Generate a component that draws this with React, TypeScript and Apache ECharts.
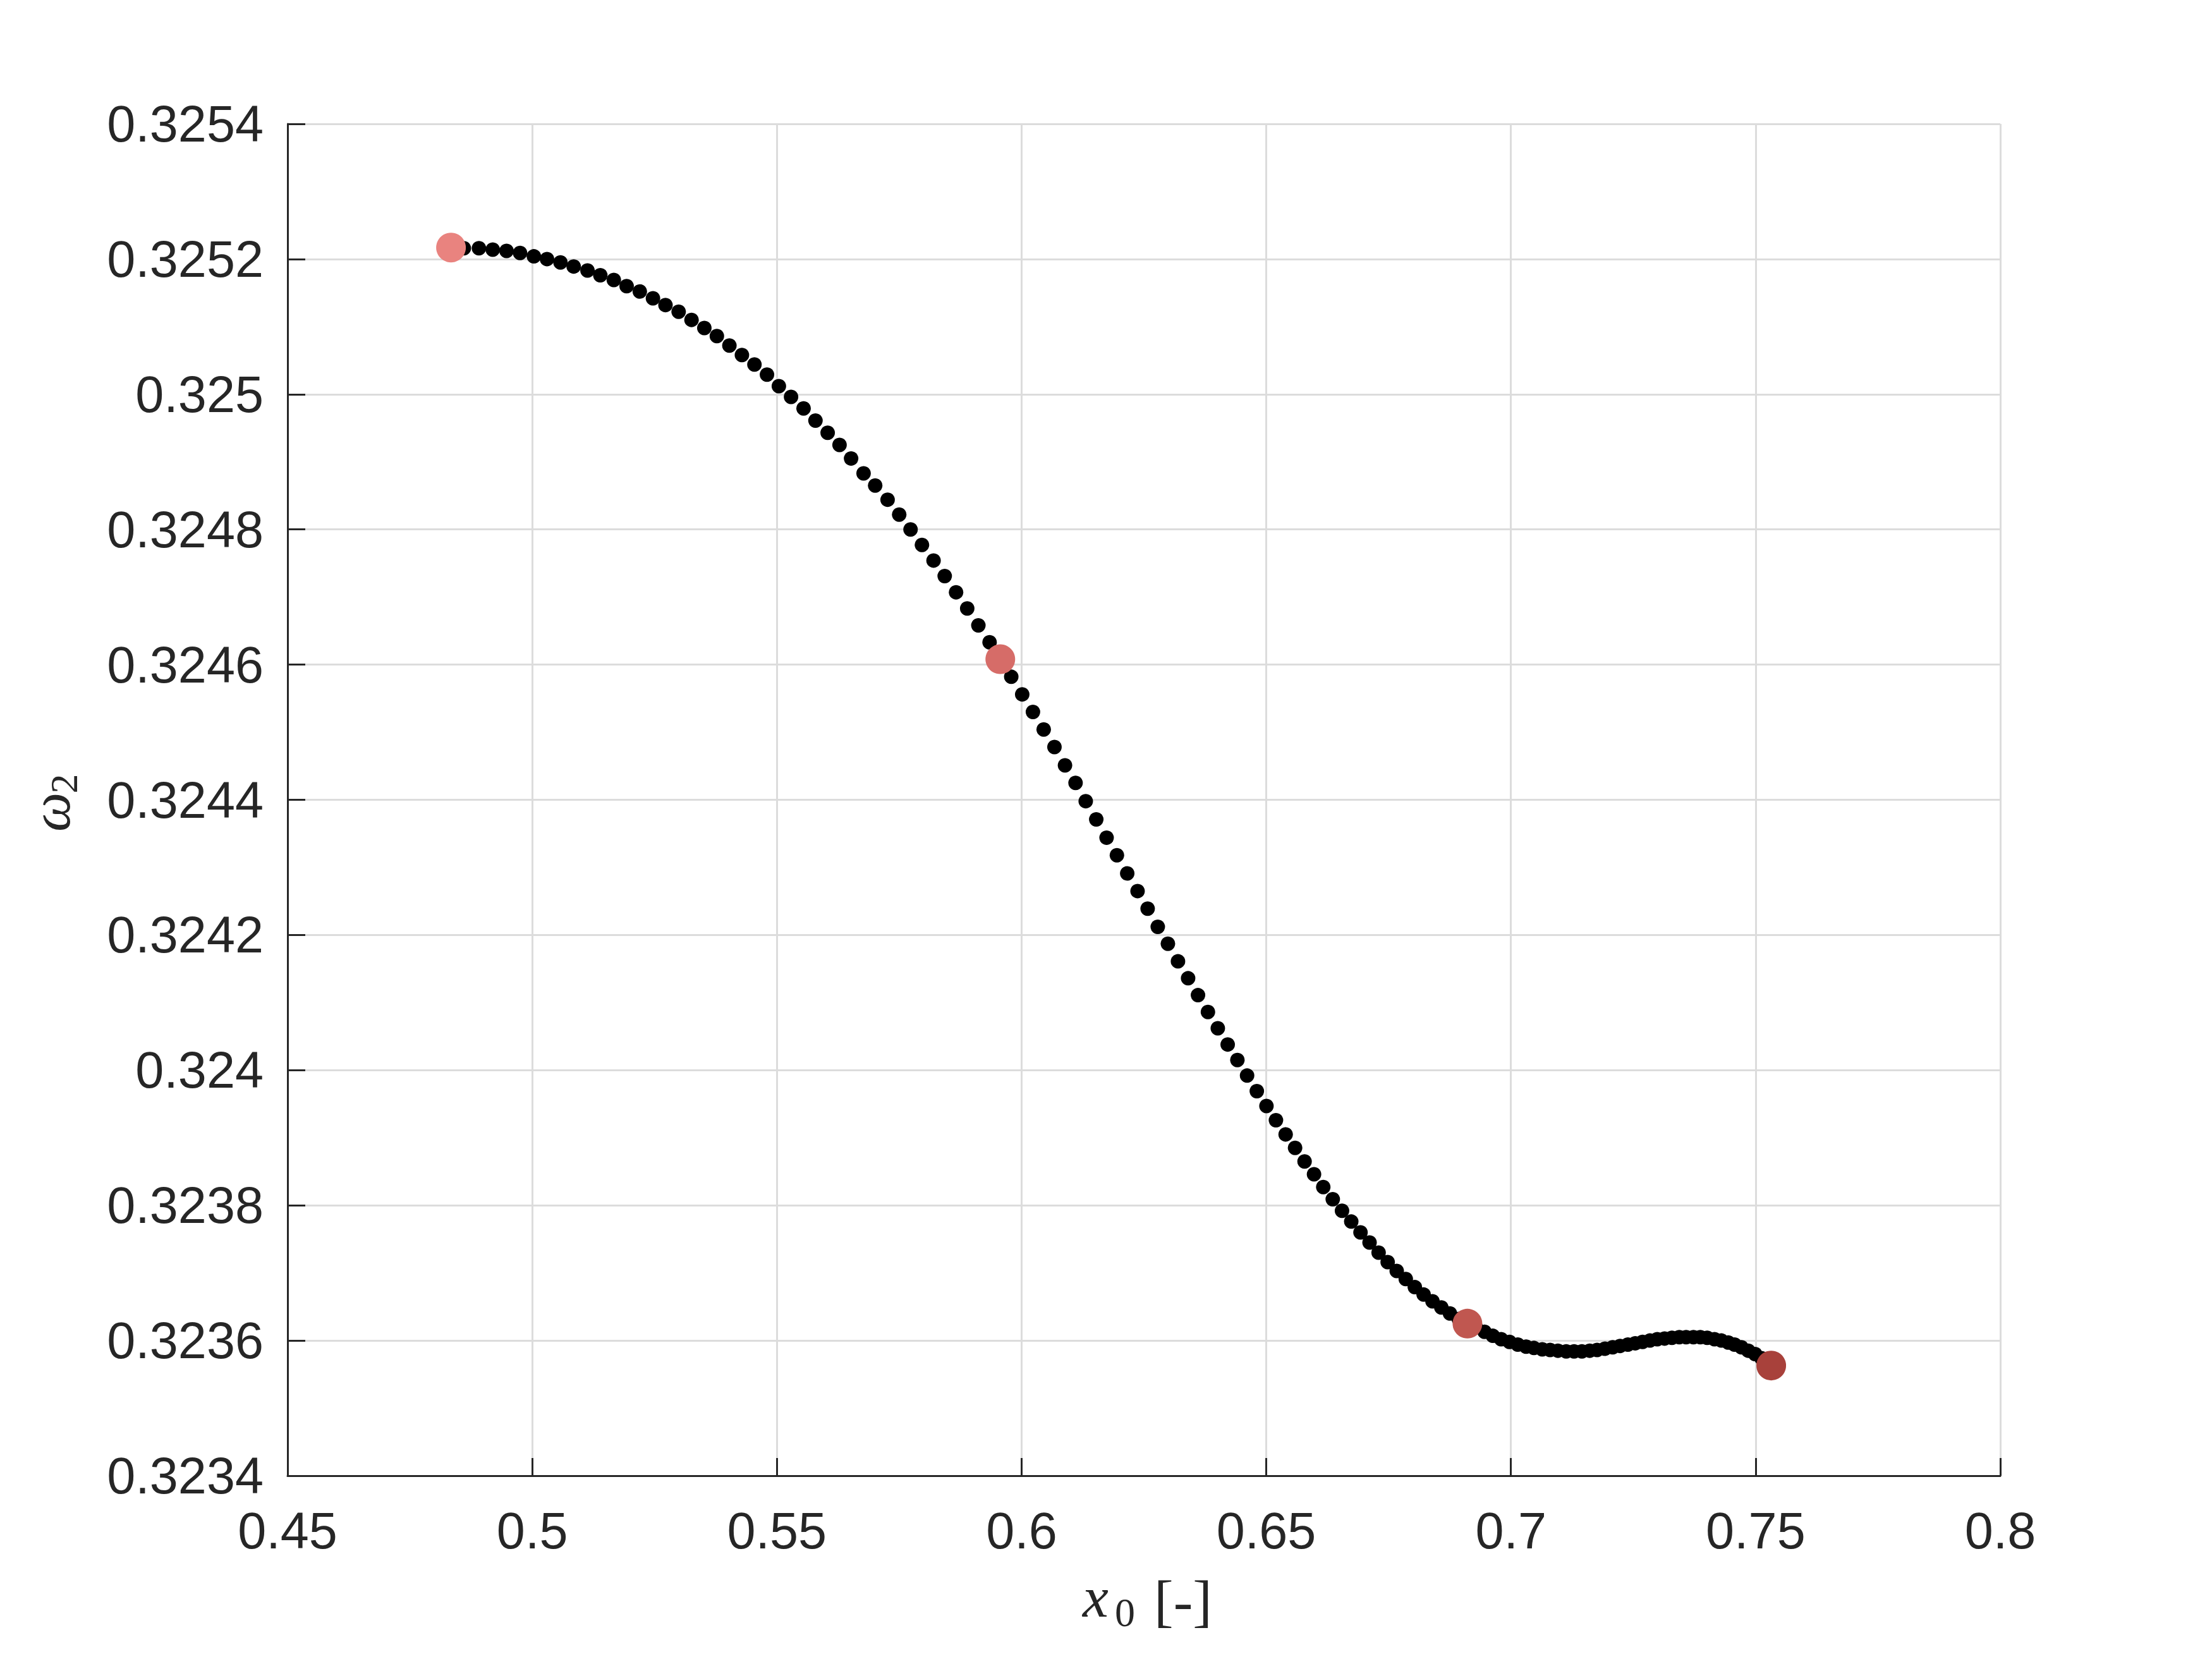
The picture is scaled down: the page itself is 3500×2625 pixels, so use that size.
import React, { useEffect, useRef } from "react";
import * as echarts from "echarts";

// ---- Data ----
const curveX = [
  0.4834, 0.48602, 0.48911, 0.49193, 0.49475, 0.49751, 0.50033, 0.50302, 0.50577, 0.50847,
  0.51129, 0.51391, 0.51667, 0.51929, 0.52198, 0.52467, 0.52723, 0.52992, 0.53255, 0.53517,
  0.53773, 0.54029, 0.54285, 0.54541, 0.54797, 0.5504, 0.55289, 0.55545, 0.55788, 0.56037,
  0.5628, 0.56516, 0.56771, 0.57008, 0.57262, 0.57499, 0.57731, 0.57964, 0.58201, 0.58429,
  0.58661, 0.58889, 0.59117, 0.59346, 0.59565, 0.59789, 0.60013, 0.60232, 0.60452, 0.60672,
  0.60887, 0.61103, 0.61311, 0.61526, 0.61737, 0.61948, 0.62159, 0.6237, 0.62576, 0.62783,
  0.6299, 0.63196, 0.63403, 0.63605, 0.63808, 0.6401, 0.64212, 0.6441, 0.64608, 0.64807,
  0.65004, 0.65198, 0.65396, 0.65589, 0.65783, 0.65976, 0.66165, 0.66359, 0.66548, 0.66737,
  0.66926, 0.67111, 0.67296, 0.67481, 0.67666, 0.67851, 0.68036, 0.68216, 0.68397, 0.68578,
  0.68754, 0.68934, 0.69111, 0.6928, 0.6946, 0.6963, 0.698, 0.6997, 0.7014, 0.7031,
  0.7047, 0.7064, 0.708, 0.7096, 0.7113, 0.7129, 0.7145, 0.7161, 0.7176, 0.7192,
  0.7208, 0.7223, 0.7239, 0.7254, 0.7269, 0.7284, 0.7299, 0.7314, 0.7329, 0.7344,
  0.7358, 0.7373, 0.7387, 0.7401, 0.7416, 0.743, 0.7444, 0.7457, 0.7471, 0.7485,
  0.7499, 0.7512, 0.7525, 0.7532,
];
const curveY = [
  0.325217, 0.325216, 0.325216, 0.325214, 0.325212, 0.325209, 0.325204, 0.3252, 0.325195, 0.325189,
  0.325183, 0.325176, 0.325169, 0.32516, 0.325152, 0.325142, 0.325132, 0.325122, 0.32511, 0.325098,
  0.325086, 0.325072, 0.325058, 0.325044, 0.325029, 0.325012, 0.324996, 0.324979, 0.324961, 0.324943,
  0.324925, 0.324905, 0.324883, 0.324865, 0.324844, 0.324822, 0.3248, 0.324777, 0.324754, 0.324731,
  0.324707, 0.324683, 0.324658, 0.324633, 0.324608, 0.324582, 0.324556, 0.32453, 0.324504, 0.324478,
  0.324451, 0.324425, 0.324398, 0.324371, 0.324344, 0.324318, 0.324291, 0.324265, 0.324239, 0.324212,
  0.324187, 0.324161, 0.324136, 0.324111, 0.324086, 0.324062, 0.324038, 0.324015, 0.323992, 0.323969,
  0.323947, 0.323926, 0.323905, 0.323885, 0.323865, 0.323846, 0.323827, 0.323809, 0.323792, 0.323776,
  0.32376, 0.323745, 0.32373, 0.323716, 0.323703, 0.323691, 0.323679, 0.323668, 0.323658, 0.323649,
  0.32364, 0.323632, 0.323625, 0.32362, 0.323613, 0.323607, 0.323602, 0.323598, 0.323594, 0.323591,
  0.323589, 0.323587, 0.323586, 0.323585, 0.323584, 0.323584, 0.323584, 0.323585, 0.323586, 0.323588,
  0.32359, 0.323592, 0.323594, 0.323596, 0.323598, 0.3236, 0.323602, 0.323603, 0.323604, 0.323605,
  0.323605, 0.323605, 0.323605, 0.323604, 0.323602, 0.3236, 0.323597, 0.323594, 0.32359, 0.323585,
  0.32358, 0.323574, 0.323568, 0.323563,
];

const highlightX = [0.4834, 0.59565, 0.69111, 0.75319];
const highlightY = [0.325217, 0.324608, 0.323625, 0.323563];
const highlightColors = ["#E9837F", "#D66C68", "#C05750", "#A8413B"];

const xTickLabels = ["0.45", "0.5", "0.55", "0.6", "0.65", "0.7", "0.75", "0.8"];
const yTickLabels = [
  "0.3234", "0.3236", "0.3238", "0.324", "0.3242", "0.3244",
  "0.3246", "0.3248", "0.325", "0.3252", "0.3254",
];

const TEXT = "#262626";
const GRID = "#dcdcdc";
const SANS = "'Liberation Sans', Arial, Helvetica, sans-serif";
const SERIF = "'Liberation Serif', 'Times New Roman', serif";

export default function App() {
  const ref = useRef<HTMLDivElement>(null);

  useEffect(() => {
    document.body.style.margin = "0";
    if (!ref.current) return;
    const chart = echarts.init(ref.current, undefined, { renderer: "svg" });

    const fmtX = (v: number) => {
      const idx = Math.round((v - 0.45) / 0.05);
      return xTickLabels[idx] ?? "";
    };
    const fmtY = (v: number) => {
      const idx = Math.round((v - 0.3234) / 0.0002);
      return yTickLabels[idx] ?? "";
    };

    const curveData = curveX.map((x, i) => [x, curveY[i]]);

    const highlightSeries = highlightX.map((x, i) => ({
      type: "scatter" as const,
      data: [[x, highlightY[i]]],
      symbol: "circle",
      symbolSize: 47,
      itemStyle: { color: highlightColors[i], opacity: 1 },
      z: 3,
      silent: true,
    }));

    chart.setOption({
      animation: false,
      backgroundColor: "#ffffff",
      grid: { left: 455, right: 335, top: 196, bottom: 290, containLabel: false },
      xAxis: {
        type: "value",
        min: 0.45,
        max: 0.8,
        interval: 0.05,
        axisLine: { show: true, onZero: false, lineStyle: { color: TEXT, width: 3 } },
        axisTick: { show: true, inside: true, length: 28, lineStyle: { color: TEXT, width: 3 } },
        axisLabel: {
          formatter: fmtX,
          color: TEXT,
          fontFamily: SANS,
          fontSize: 81,
          margin: 46,
        },
        splitLine: { show: true, lineStyle: { color: GRID, width: 3 } },
      },
      yAxis: {
        type: "value",
        min: 0.3234,
        max: 0.3254,
        interval: 0.0002,
        axisLine: { show: true, onZero: false, lineStyle: { color: TEXT, width: 3 } },
        axisTick: { show: true, inside: true, length: 28, lineStyle: { color: TEXT, width: 3 } },
        axisLabel: {
          formatter: fmtY,
          color: TEXT,
          fontFamily: SANS,
          fontSize: 81,
          margin: 38,
        },
        splitLine: { show: true, lineStyle: { color: GRID, width: 3 } },
      },
      graphic: [
        // x-axis title: x_0 [-]
        {
          type: "text",
          x: 1713,
          y: 2527,
          style: {
            text: "x",
            fontFamily: SERIF,
            fontStyle: "italic",
            fontSize: 92,
            fill: TEXT,
            align: "left",
            verticalAlign: "middle",
          },
        },
        {
          type: "text",
          x: 1764,
          y: 2551,
          style: {
            text: "0",
            fontFamily: SERIF,
            fontSize: 64,
            fill: TEXT,
            align: "left",
            verticalAlign: "middle",
          },
        },
        {
          type: "text",
          x: 1826,
          y: 2533,
          style: {
            text: "[-]",
            fontFamily: SERIF,
            fontSize: 92,
            fill: TEXT,
            align: "left",
            verticalAlign: "middle",
          },
        },
        // y-axis title: ω_2 (rotated)
        {
          type: "text",
          x: 80,
          y: 1285,
          rotation: Math.PI / 2,
          style: {
            text: "ω",
            fontFamily: SERIF,
            fontStyle: "italic",
            fontSize: 88,
            fill: TEXT,
            align: "center",
            verticalAlign: "middle",
          },
        },
        {
          type: "text",
          x: 101,
          y: 1240,
          rotation: Math.PI / 2,
          style: {
            text: "2",
            fontFamily: SERIF,
            fontSize: 62,
            fill: TEXT,
            align: "center",
            verticalAlign: "middle",
          },
        },
      ],
      series: [
        {
          type: "scatter",
          data: curveData,
          symbol: "circle",
          symbolSize: 23,
          itemStyle: { color: "#000000", opacity: 1 },
          z: 2,
          silent: true,
        },
        ...highlightSeries,
      ],
    });

    return () => {
      chart.dispose();
    };
  }, []);

  return <div ref={ref} style={{ width: 3500, height: 2625 }} />;
}
